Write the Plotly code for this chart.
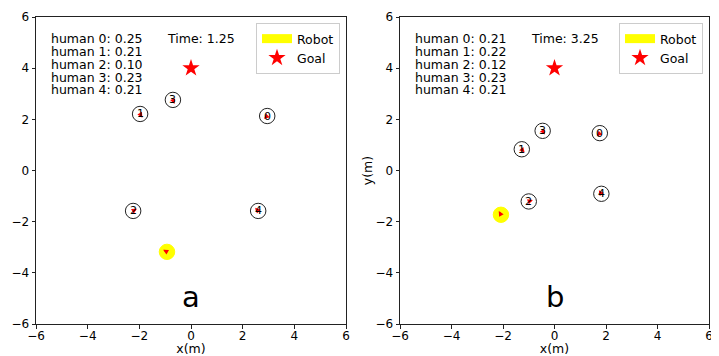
import numpy as np
import plotly.graph_objects as go

# ---------------- data ----------------
panel_labels = ["a", "b"]
times = [1.25, 3.25]

# panel a
humans_a_x = [2.95, -1.97, -2.24, -0.70, 2.60]
humans_a_y = [2.13, 2.21, -1.58, 2.76, -1.58]
humans_a_heading = [225, -60, 30, -70, 135]   # degrees
probs_a = [0.25, 0.21, 0.10, 0.23, 0.21]
robot_a = [-0.93, -3.18]
robot_a_heading = 150

# panel b
humans_b_x = [1.76, -1.27, -1.00, -0.46, 1.82]
humans_b_y = [1.46, 0.83, -1.21, 1.55, -0.91]
humans_b_heading = [225, -50, 20, -60, 125]
probs_b = [0.21, 0.22, 0.12, 0.23, 0.21]
robot_b = [-2.08, -1.73]
robot_b_heading = 120

goal = [0.0, 4.0]
human_radius = 0.3
robot_radius = 0.3
tick_vals = [-6, -4, -2, 0, 2, 4, 6]

FONT = "DejaVu Sans"
# the page body adds an 8px offset, so the figure is drawn 8px smaller
W, H = 711, 348
ML, MR, MT, MB = 28, 10, 9, 32
PW = W - ML - MR

fig = go.Figure()

panels = [
    dict(hx=humans_a_x, hy=humans_a_y, hh=humans_a_heading, probs=probs_a,
         robot=robot_a, rh=robot_a_heading, xa="x", ya="y", legend="legend"),
    dict(hx=humans_b_x, hy=humans_b_y, hh=humans_b_heading, probs=probs_b,
         robot=robot_b, rh=robot_b_heading, xa="x2", ya="y2", legend="legend2"),
]

shapes = []
annotations = []
for pi, p in enumerate(panels):
    xa, ya = p["xa"], p["ya"]
    # robot
    rx, ry = p["robot"]
    shapes.append(dict(type="circle", xref=xa, yref=ya,
                       x0=rx - robot_radius, x1=rx + robot_radius,
                       y0=ry - robot_radius, y1=ry + robot_radius,
                       fillcolor="yellow", line=dict(color="yellow", width=1)))
    ang = np.deg2rad(p["rh"])
    annotations.append(dict(x=rx + 0.17 * np.cos(ang), y=ry + 0.17 * np.sin(ang),
                            ax=rx, ay=ry, xref=xa, yref=ya, axref=xa, ayref=ya,
                            showarrow=True, arrowhead=2, arrowsize=0.7,
                            arrowwidth=1.5, arrowcolor="red", text=""))
    # humans
    for i, (hx, hy, hh) in enumerate(zip(p["hx"], p["hy"], p["hh"])):
        shapes.append(dict(type="circle", xref=xa, yref=ya,
                           x0=hx - human_radius, x1=hx + human_radius,
                           y0=hy - human_radius, y1=hy + human_radius,
                           line=dict(color="#222222", width=1)))
        ang = np.deg2rad(hh)
        annotations.append(dict(x=hx + 0.17 * np.cos(ang), y=hy + 0.17 * np.sin(ang),
                                ax=hx, ay=hy, xref=xa, yref=ya, axref=xa, ayref=ya,
                                showarrow=True, arrowhead=2, arrowsize=0.7,
                                arrowwidth=1.5, arrowcolor="red", text=""))
        annotations.append(dict(x=hx, y=hy, xref=xa, yref=ya, text=str(i),
                                showarrow=False,
                                font=dict(family=FONT, size=11, color="black")))
    # probability texts
    for i, pr in enumerate(p["probs"]):
        annotations.append(dict(x=-5.5, y=5.17 - 0.5 * i, xref=xa, yref=ya,
                                text=f"human {i}: {pr:.2f}", showarrow=False,
                                xanchor="left", yanchor="middle", height=12,
                                font=dict(family=FONT, size=12.5, color="black")))
    annotations.append(dict(x=-1.0, y=5.17, xref=xa, yref=ya,
                            text=f"Time: {times[pi]:.2f}", showarrow=False,
                            xanchor="left", yanchor="middle",
                            font=dict(family=FONT, size=12.5, color="black")))
    annotations.append(dict(x=0.0, y=-4.95, xref=xa, yref=ya,
                            text=panel_labels[pi], showarrow=False,
                            xanchor="center", yanchor="middle",
                            font=dict(family=FONT, size=29, color="black")))
    # legend traces
    fig.add_trace(go.Scatter(x=[None], y=[None], mode="lines", name="Robot",
                             line=dict(color="yellow", width=9),
                             xaxis=xa, yaxis=ya, legend=p["legend"]))
    fig.add_trace(go.Scatter(x=[goal[0]], y=[goal[1]], mode="markers", name="Goal",
                             marker=dict(symbol="star", size=13, color="red",
                                         line=dict(width=0)),
                             xaxis=xa, yaxis=ya, legend=p["legend"]))

ax_common = dict(range=[-6, 6], tickvals=tick_vals, showgrid=False, zeroline=False,
                 showline=True, linecolor="#222222", linewidth=1, mirror=True,
                 ticks="outside", ticklen=3.5, tickwidth=1, tickcolor="#222222",
                 automargin=False,
                 tickfont=dict(family=FONT, size=12, color="black"))

fig.update_layout(
    width=W, height=H, margin=dict(l=ML, r=MR, t=MT, b=MB, autoexpand=False),
    paper_bgcolor="white", plot_bgcolor="white", showlegend=True,
    xaxis=dict(domain=[0, 310 / PW], anchor="y", ticklabelstandoff=-3,
               title=dict(text="x(m)", standoff=5,
                          font=dict(family=FONT, size=12.5, color="black")), **ax_common),
    yaxis=dict(domain=[0, 1], anchor="x", **ax_common),
    xaxis2=dict(domain=[364 / PW, 1], anchor="y2", ticklabelstandoff=-3,
                title=dict(text="x(m)", standoff=5,
                           font=dict(family=FONT, size=12.5, color="black")), **ax_common),
    yaxis2=dict(domain=[0, 1], anchor="x2",
                title=dict(text="y(m)", standoff=0,
                           font=dict(family=FONT, size=12.5, color="black")), **ax_common),
    legend=dict(x=304 / PW, y=1 - 6 / (H - MT - MB), xanchor="right", yanchor="top",
                bgcolor="white", bordercolor="#cccccc", borderwidth=1,
                font=dict(family=FONT, size=12.5, color="black"),
                itemwidth=30, tracegroupgap=0),
    legend2=dict(x=667 / PW, y=1 - 6 / (H - MT - MB), xanchor="right", yanchor="top",
                 bgcolor="white", bordercolor="#cccccc", borderwidth=1,
                 font=dict(family=FONT, size=12.5, color="black"),
                 itemwidth=30, tracegroupgap=0),
    shapes=shapes, annotations=annotations,
)

fig.write_html("out.html")
